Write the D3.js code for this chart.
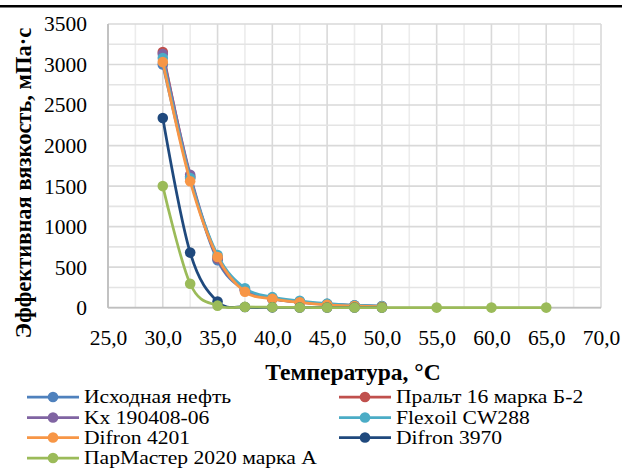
<!DOCTYPE html>
<html><head><meta charset="utf-8">
<script src="https://cdn.jsdelivr.net/npm/d3@7"></script>
</head>
<body style="margin:0">
<svg id="chart" width="625" height="468" style="display:block;background:#fff"></svg>
<script>
const temperatures = [30, 32.5, 35, 37.5, 40, 42.5, 45, 47.5, 50, 55, 60, 65];
const seriesNames = ["Исходная нефть", "Пральт 16 марка Б-2", "Kx 190408-06", "Flexoil CW288", "Difron 4201", "Difron 3970", "ПарМастер 2020 марка А"];
const seriesColors = ["#4F81BD", "#C0504D", "#8064A2", "#4BACC6", "#F79646", "#1F497D", "#9BBB59"];
const ishodnaya = [3000, 1600, 585, 215, 110, 70, 40, 25, 15];
const pralt = [3155, 1620, 610, 220, 115, 70, 44, 27, 16];
const kx = [3130, 1640, 620, 220, 112, 72, 44, 27, 16];
const flexoil = [3080, 1600, 650, 240, 130, 85, 50, 31, 20];
const difron4201 = [3030, 1560, 625, 197, 110, 66, 35, 21, 12];
const difron3970 = [2340, 680, 75, 8, 4, 3, 2, 2, 1];
const parmaster = [1500, 295, 25, 10, 5, 3, 2, 2, 1, 1, 1, 1];
const seriesValues = [ishodnaya, pralt, kx, flexoil, difron4201, difron3970, parmaster];
const xTicks = [25, 30, 35, 40, 45, 50, 55, 60, 65, 70];
const yTicks = [0, 500, 1000, 1500, 2000, 2500, 3000, 3500];
const xTitle = "Температура, °С";
const yTitle = "Эффективная вязкость, мПа·с";

const FONT = "Liberation Serif";
const svg = d3.select("#chart");
const L = 108, R = 601, T = 24, B = 307.7;
const x = d3.scaleLinear().domain([25, 70]).range([L, R]);
const y = d3.scaleLinear().domain([0, 3500]).range([B, T]);

svg.append("rect").attr("x", 0).attr("y", 5).attr("width", 622).attr("height", 2.5).attr("fill", "#000");

const g = svg.append("g");
const minorX = d3.range(25, 70.01, 2.5);
const minorY = d3.range(0, 3500.01, 250);
g.selectAll(".mx").data(minorX).join("line")
  .attr("x1", d => x(d)).attr("x2", d => x(d)).attr("y1", T).attr("y2", B)
  .attr("stroke", d => (d % 5 === 0) ? "#d9d9d9" : "#ececec").attr("stroke-width", 1.6);
g.selectAll(".my").data(minorY).join("line")
  .attr("x1", L).attr("x2", R).attr("y1", d => y(d)).attr("y2", d => y(d))
  .attr("stroke", d => (d % 500 === 0) ? "#d9d9d9" : "#e4e4e4").attr("stroke-width", 1.6);
svg.append("line").attr("x1", L).attr("x2", L).attr("y1", T).attr("y2", B).attr("stroke", "#bfbfbf").attr("stroke-width", 1.8);
svg.append("line").attr("x1", L).attr("x2", R).attr("y1", B).attr("y2", B).attr("stroke", "#bfbfbf").attr("stroke-width", 1.8);

const xAxis = svg.append("g").attr("transform", `translate(0,${B})`)
  .call(d3.axisBottom(x).tickValues(xTicks).tickSize(0).tickPadding(22).tickFormat(d => d3.format(".1f")(d).replace(".", ",")));
xAxis.select(".domain").remove();
xAxis.attr("font-family", FONT).attr("font-size", 21);
xAxis.selectAll("text").style("font-family", FONT).style("font-size", "21.5px").attr("fill", "#000");

const yAxis = svg.append("g").attr("transform", `translate(${L},0)`)
  .call(d3.axisLeft(y).tickValues(yTicks).tickSize(0).tickPadding(21).tickFormat(d3.format("d")));
yAxis.select(".domain").remove();
yAxis.attr("font-family", FONT).attr("font-size", 21);
yAxis.selectAll("text").style("font-family", FONT).style("font-size", "21.5px").attr("fill", "#000");

svg.append("text").attr("x", 353).attr("y", 380).attr("text-anchor", "middle")
  .style("font-family", FONT).style("font-size", "23.5px").style("font-weight", "bold").text(xTitle);
svg.append("text").attr("transform", "translate(31,183) rotate(-90)").attr("text-anchor", "middle")
  .style("font-family", FONT).style("font-size", "22.5px").style("font-weight", "bold").text(yTitle);

const line = d3.line().x(d => x(d[0])).y(d => y(d[1])).curve(d3.curveCatmullRom.alpha(0));
seriesValues.forEach((vals, i) => {
  const pts = vals.map((v, j) => [temperatures[j], v]);
  const sg = svg.append("g");
  sg.append("path").attr("d", line(pts)).attr("fill", "none")
    .attr("stroke", seriesColors[i]).attr("stroke-width", 2.75);
  sg.selectAll("circle").data(pts).join("circle")
    .attr("cx", d => x(d[0])).attr("cy", d => y(d[1])).attr("r", 5.3)
    .attr("fill", seriesColors[i]);
});

const colX = [27, 339];
const rowY = [397, 417.5, 437.5, 458];
seriesNames.forEach((name, i) => {
  const cx = colX[i % 2], cy = rowY[Math.floor(i / 2)];
  const lg = svg.append("g");
  lg.append("line").attr("x1", cx).attr("x2", cx + 52).attr("y1", cy).attr("y2", cy)
    .attr("stroke", seriesColors[i]).attr("stroke-width", 2.75);
  lg.append("circle").attr("cx", cx + 26).attr("cy", cy).attr("r", 5.3).attr("fill", seriesColors[i]);
  lg.append("text").attr("transform", `translate(${cx + 57},${cy + 6}) scale(1.2,1)`)
    .style("font-family", FONT).style("font-size", "18px").text(name);
});
</script>
</body></html>
